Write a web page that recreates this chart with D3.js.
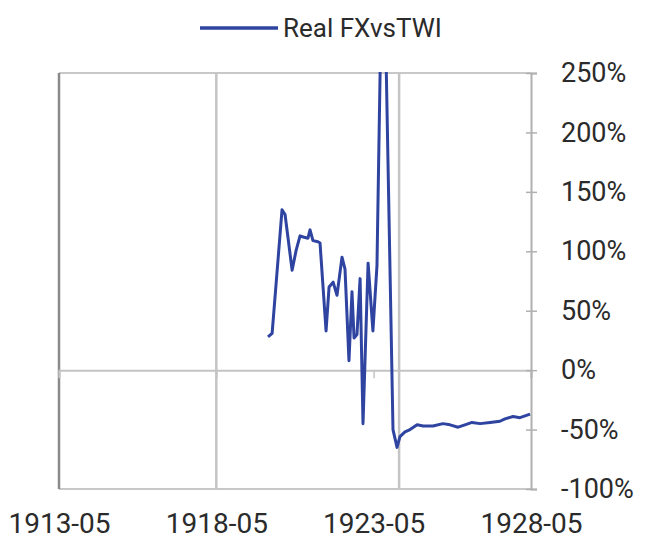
<!DOCTYPE html>
<html>
<head>
<meta charset="utf-8">
<script src="https://cdn.jsdelivr.net/npm/d3@7"></script>
<style>
  html, body { margin: 0; padding: 0; background: #fff; }
  svg { display: block; font-family: Roboto, "Open Sans", sans-serif; }
</style>
</head>
<body>
<svg id="chart" width="645" height="550"></svg>
<script>
// ---- data ----
const seriesName = "Real FXvsTWI";
const dates = [
  "1919-12-22","1920-02-08","1920-06-02","1920-07-07","1920-09-27","1920-11-13","1920-12-28",
  "1921-02-03","1921-03-30","1921-04-23","1921-05-27","1921-07-24","1921-08-17","1921-10-26",
  "1921-11-30","1922-01-16","1922-03-02","1922-04-29","1922-06-03","1922-07-19","1922-08-23",
  "1922-09-16","1922-10-20","1922-11-25","1922-12-29","1923-02-26","1923-04-23","1923-06-09",
  "1923-08-18","1923-12-12","1924-01-28","1924-03-02","1924-04-29","1924-06-27","1924-09-17",
  "1924-11-26","1925-03-20","1925-07-14","1925-10-04","1926-01-06","1926-03-26","1926-06-16",
  "1926-09-18","1927-01-12","1927-05-07","1927-07-04","1927-10-05","1927-12-25","1928-04-20"
];
const values = [
  28, 31, 135, 131, 84, 101, 113,
  112, 111, 118, 109, 108, 107, 33,
  70, 74, 63, 95, 85, 8, 66,
  27, 30, 77, -45, 90, 33, 88,
  400, -50, -65, -56, -52, -50, -46,
  -47, -47, -45, -46, -48, -46, -44,
  -45, -44, -43, -41, -39, -40, -37
];
const xTickLabels = ["1913-05", "1918-05", "1923-05", "1928-05"];
const yTicks = [-100, -50, 0, 50, 100, 150, 200, 250];
const refLineDates = ["1918-05-01", "1924-02-21"];

(function () {
// ---- layout ----
const parse = d3.timeParse("%Y-%m-%d");
const parseTick = d3.timeParse("%Y-%m");
const pL = 59, pR = 531, pT = 73, pB = 489;
const blue = "#2e44a0";

const svg = d3.select("#chart");
const x = d3.scaleTime()
  .domain([parseTick(xTickLabels[0]), parseTick(xTickLabels[xTickLabels.length - 1])])
  .range([pL, pR]);
const y = d3.scaleLinear().domain([-100, 250]).range([pB, pT]);

// plot frame
svg.append("line").attr("x1", pL).attr("x2", pR).attr("y1", pT).attr("y2", pT)
  .attr("stroke", "#c8c8c8").attr("stroke-width", 2);
svg.append("line").attr("x1", pL).attr("x2", pR).attr("y1", pB).attr("y2", pB)
  .attr("stroke", "#c8c8c8").attr("stroke-width", 2);

// reference vertical lines
svg.selectAll("line.ref").data(refLineDates).join("line")
  .attr("class", "ref")
  .attr("x1", d => x(parse(d))).attr("x2", d => x(parse(d)))
  .attr("y1", pT).attr("y2", pB)
  .attr("stroke", "#c4c4c4").attr("stroke-width", 2.5);

// left border
svg.append("line").attr("x1", pL).attr("x2", pL).attr("y1", pT).attr("y2", pB)
  .attr("stroke", "#8a8a8a").attr("stroke-width", 2.5);

// zero line x-axis with ticks
const xAxisZero = d3.axisBottom(x)
  .tickValues(xTickLabels.map(parseTick))
  .tickSize(8).tickFormat("");
const gz = svg.append("g").attr("transform", `translate(0,${y(0)})`).call(xAxisZero);
gz.select(".domain").attr("stroke", "#c4c4c4").attr("stroke-width", 2);
gz.selectAll(".tick line").attr("stroke", "#c4c4c4").attr("stroke-width", 1.5);

// x labels at bottom
const xAxisBottom = d3.axisBottom(x)
  .tickValues(xTickLabels.map(parseTick))
  .tickSize(0).tickPadding(0)
  .tickFormat(d3.timeFormat("%Y-%m"));
const gb = svg.append("g").attr("transform", `translate(0,${pB + 34})`).call(xAxisBottom);
gb.select(".domain").remove();
gb.selectAll("text").attr("font-size", 28).attr("fill", "#2b2b2b")
  .attr("font-family", "Roboto, sans-serif").attr("dy", "0.35em");

// right y axis
const yAxis = d3.axisRight(y).tickValues(yTicks).tickSize(6).tickPadding(24)
  .tickFormat(d => d + "%");
const gy = svg.append("g").attr("transform", `translate(${pR},0)`).call(yAxis);
gy.select(".domain").attr("stroke", "#b0b0b0").attr("stroke-width", 2);
gy.selectAll(".tick line").attr("x1", -5).attr("stroke", "#b0b0b0").attr("stroke-width", 1.5);
gy.selectAll("text").attr("font-size", 27).attr("fill", "#2b2b2b")
  .attr("font-family", "Roboto, sans-serif");

// clip
svg.append("clipPath").attr("id", "clip").append("rect")
  .attr("x", pL).attr("y", pT - 1).attr("width", pR - pL).attr("height", pB - pT + 2);

const data = dates.map((d, i) => ({ date: parse(d), value: values[i] }));
const line = d3.line().x(d => x(d.date)).y(d => y(d.value));
svg.append("path").datum(data)
  .attr("clip-path", "url(#clip)")
  .attr("d", line)
  .attr("fill", "none")
  .attr("stroke", blue)
  .attr("stroke-width", 3)
  .attr("stroke-linejoin", "round");

// legend
const lg = svg.append("g");
lg.append("line").attr("x1", 200).attr("x2", 278).attr("y1", 28).attr("y2", 28)
  .attr("stroke", blue).attr("stroke-width", 3.5);
lg.append("text").attr("x", 283).attr("y", 28).attr("dy", "0.35em")
  .attr("font-size", 26).attr("fill", "#2b2b2b").attr("font-family", "Roboto, sans-serif")
  .text(seriesName);
})();
</script>
</body>
</html>
